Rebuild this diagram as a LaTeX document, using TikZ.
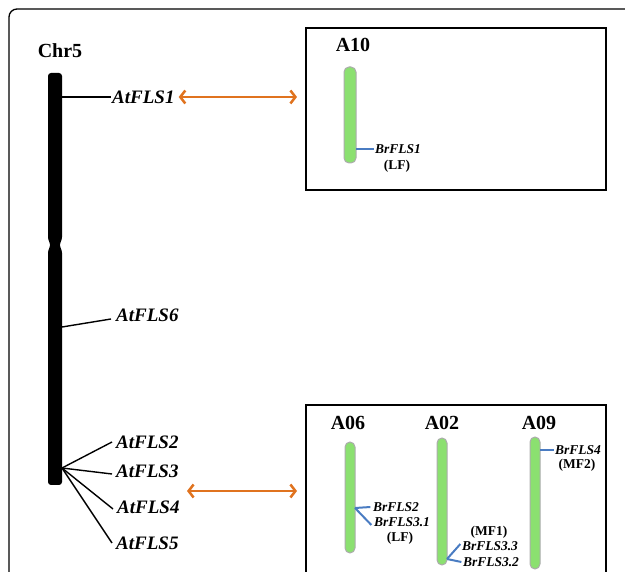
\documentclass[tikz,border=0pt]{standalone}
\usepackage{fontspec}
\setmainfont{Liberation Serif}
\usetikzlibrary{arrows.meta}
\definecolor{arancio}{HTML}{E0731F}
\definecolor{blu}{HTML}{4A7CC2}
\definecolor{verde}{HTML}{8BE070}

\tikzset{
  gene/.style={font=\fontsize{19}{19}\selectfont\bfseries\itshape, anchor=west, inner sep=1pt},
  brgene/.style={font=\fontsize{13.5}{13.5}\selectfont\bfseries\itshape, inner sep=0.5pt},
  tipo/.style={font=\fontsize{13.5}{13.5}\selectfont\bfseries, inner sep=0.5pt},
  cromo/.style={font=\fontsize{20}{20}\selectfont\bfseries, inner sep=0pt},
  riquadro/.style={draw, line width=2pt, inner sep=0pt},
  freccia/.style={arancio, line width=2.5pt, shorten <=3pt, shorten >=8pt,
    {Straight Barb[length=5pt,width=13pt]}-{Straight Barb[length=5pt,width=13pt]}},
  legame/.style={blu, line width=2pt},
  ramo/.style={black, line width=1.4pt},
  verdecromo/.style={rounded corners=5pt, draw=gray!65, line width=1pt, fill=verde}
}

\begin{document}
\begin{tikzpicture}[x=1pt, y=-1pt]
  \useasboundingbox (0,0) rectangle (625,572);
  % Cornice esterna
  \draw[line width=1.3pt, rounded corners=8pt] (9,580) -- (9,9) -- (640,9);
  % Riquadri
  \node[riquadro, minimum width=300pt, minimum height=162pt] (boxA) at (456,109) {};
  \node[riquadro, minimum width=300pt, minimum height=200pt] (boxB) at (456,505) {};
  % Cromosoma Chr5
  \node[cromo] (chr) at (60,51) {Chr5};
  \fill[rounded corners=3pt] (48,73) -- (62,73) -- (62,240) -- (59,245) -- (62,250)
    -- (62,485) -- (48,485) -- (48,250) -- (51,245) -- (48,240) -- cycle;
  \coordinate (p1) at (62,97);
  \coordinate (p6) at (62,327);
  \coordinate (pb) at (62,468);
  % Geni AtFLS
  \node[gene] (g1) at (111,97) {AtFLS1};
  \node[gene] (g6) at (115,315) {AtFLS6};
  \node[gene] (g2) at (115,442) {AtFLS2};
  \node[gene] (g3) at (115,471) {AtFLS3};
  \node[gene] (g4) at (116,507) {AtFLS4};
  \node[gene] (g5) at (115,543) {AtFLS5};
  \draw[ramo] (p1) -- (g1.west);
  \draw[ramo] (p6) -- ([shift={(-4pt,-4pt)}]g6.west);
  \foreach \g/\dy in {g2/0, g3/-3, g4/-2, g5/0} {
    \draw[ramo] (pb) -- ([shift={(-3pt,\dy pt)}]\g.west);
  }
  % Frecce
  \coordinate (fb) at (184,491);
  \draw[freccia] (g1.east) -- (g1.east -| boxA.west);
  \draw[freccia] (fb) -- (fb -| boxB.west);
  % Cromosoma A10
  \node[cromo] (a10) at (353,45) {A10};
  \draw[verdecromo] (344,67) rectangle (356,163);
  \coordinate (q1) at (356,149);
  \node[brgene] (b1) at (398,149) {BrFLS1};
  \node[tipo] (t1) at (397,166) {(LF)};
  \draw[legame] (q1) -- (b1.west);
  % Cromosoma A06
  \node[cromo] (a06) at (348,423) {A06};
  \draw[verdecromo] (345,442) rectangle (355,553);
  \coordinate (q2) at (355,508);
  \node[brgene] (b2) at (396,507) {BrFLS2};
  \node[brgene] (b31) at (402,522) {BrFLS3.1};
  \node[tipo] (t2) at (400,538) {(LF)};
  \draw[legame] (q2) -- ([xshift=-2pt]b2.west);
  \draw[legame] (q2) -- ([shift={(-2pt,-3pt)}]b31.west);
  % Cromosoma A02
  \node[cromo] (a02) at (442,423) {A02};
  \draw[verdecromo] (437,438) rectangle (447,565);
  \coordinate (q3) at (447,559);
  \node[tipo] (t3) at (489,532) {(MF1)};
  \node[brgene] (b33) at (490,546) {BrFLS3.3};
  \node[brgene] (b32) at (491,562) {BrFLS3.2};
  \draw[legame] (q3) -- ([shift={(-1pt,2pt)}]b33.west);
  \draw[legame] (q3) -- ([xshift=-1pt]b32.west);
  % Cromosoma A09
  \node[cromo] (a09) at (539,423) {A09};
  \draw[verdecromo] (530,437) rectangle (540,569);
  \coordinate (q4) at (540,450);
  \node[brgene] (b4) at (578,450) {BrFLS4};
  \node[tipo] (t4) at (577,465) {(MF2)};
  \draw[legame] (q4) -- (b4.west);
\end{tikzpicture}
\end{document}
